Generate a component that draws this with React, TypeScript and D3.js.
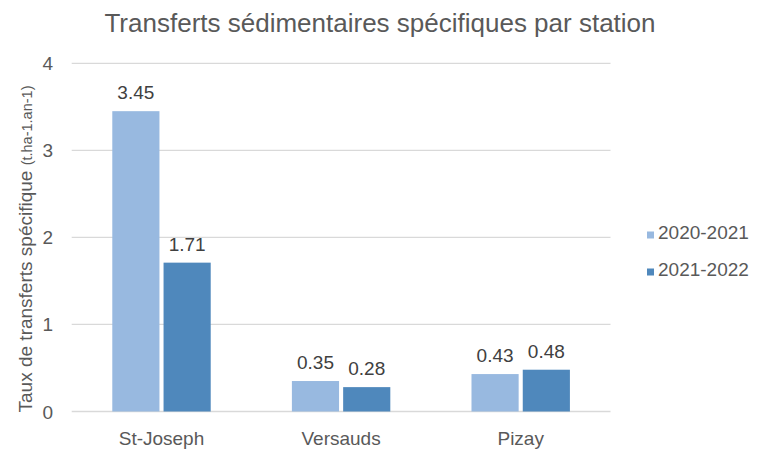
import React from "react";
import * as d3 from "d3";

const categories = ["St-Joseph", "Versauds", "Pizay"];
const seriesNames = ["2020-2021", "2021-2022"];
const values2020 = [3.45, 0.35, 0.43];
const values2021 = [1.71, 0.28, 0.48];
const yTicks = [0, 1, 2, 3, 4];
const colors = ["#98B9E0", "#4F88BC"];

export default function App() {
  const W = 769, H = 455;
  const x0 = d3.scaleBand<string>().domain(categories).range([71.7, 610.5]).paddingInner(0.452).paddingOuter(0.226);
  const x1 = d3.scaleBand<string>().domain(seriesNames).range([0, x0.bandwidth()]).paddingInner(0.08);
  const y = d3.scaleLinear().domain([0, 4]).range([411.5, 63.3]);
  const series = [values2020, values2021];
  const font = "'Liberation Sans', Arial, sans-serif";
  return (
    <div style={{ position: "absolute", left: 0, top: 0 }}>
      <svg width={W} height={H} style={{ display: "block", background: "#fff" }} fontFamily={font}>
        <text x={380} y={32} textAnchor="middle" fontSize={26} fill="#595959">
          Transferts sédimentaires spécifiques par station
        </text>
        {yTicks.map((t) => (
          <g key={t}>
            <line x1={71.7} x2={610.5} y1={y(t)} y2={y(t)} stroke="#D9D9D9" strokeWidth={1.3} />
            <text x={53} y={y(t) + 7} textAnchor="end" fontSize={19} fill="#595959">{t}</text>
          </g>
        ))}
        {categories.map((c, i) => (
          <g key={c} transform={`translate(${x0(c)},0)`}>
            {seriesNames.map((s, j) => {
              const v = series[j][i];
              const bx = x1(s)!;
              return (
                <g key={s}>
                  <rect x={bx} y={y(v)} width={x1.bandwidth()} height={y(0) - y(v)} fill={colors[j]} />
                  <text x={bx + x1.bandwidth() / 2} y={y(v) - 12} textAnchor="middle" fontSize={19} fill="#404040">
                    {v.toFixed(2)}
                  </text>
                </g>
              );
            })}
            <text x={x0.bandwidth() / 2} y={445} textAnchor="middle" fontSize={19} fill="#595959">{c}</text>
          </g>
        ))}
        <text transform="translate(32,249) rotate(-90)" textAnchor="middle" fill="#595959">
          <tspan fontSize={19}>Taux de transferts spécifique </tspan>
          <tspan fontSize={14.5}>(t.ha-1.an-1)</tspan>
        </text>
        {seriesNames.map((s, j) => (
          <g key={s}>
            <rect x={647} y={232 + j * 37 - 0.5} width={7} height={7} fill={colors[j]} />
            <text x={658} y={239 + j * 37} fontSize={19} fill="#595959">{s}</text>
          </g>
        ))}
      </svg>
    </div>
  );
}
